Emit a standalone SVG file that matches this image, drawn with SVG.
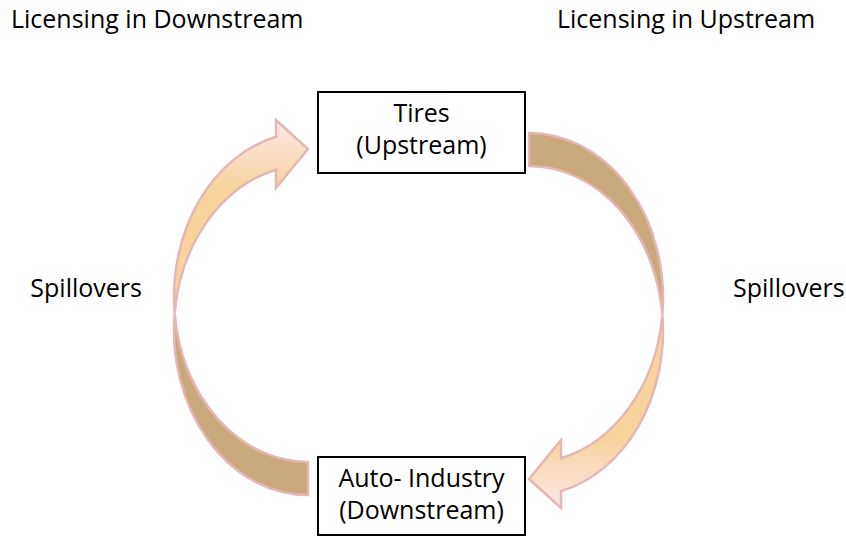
<svg xmlns="http://www.w3.org/2000/svg" width="846" height="536" viewBox="0 0 846 536">
  <style>
    text { font-family: "Open Sans", "Noto Sans", "Liberation Sans", sans-serif; font-size: 25px; fill: #000; }
    .box { fill: #fff; stroke: #000; stroke-width: 2; }
    .front { fill: url(#faceGrad); stroke: #E6B6B5; stroke-width: 2.5; stroke-linejoin: miter; }
    .back { fill: #C9A87C; stroke: #E6B6B5; stroke-width: 2.5; }
    .mid { text-anchor: middle; }
  </style>
  <defs>
    <linearGradient id="faceGrad" x1="0" y1="0" x2="0" y2="1">
      <stop offset="0" stop-color="#FDE6EA"/>
      <stop offset="0.35" stop-color="#F9D49D"/>
      <stop offset="1" stop-color="#F9D39A"/>
    </linearGradient>
    <!-- curved ribbon arrow: back face (tail) + front face (head) -->
    <g id="curvedArrow">
      <path class="back" d="M174.67 313.5 A134 165 0 0 0 308 495 L308 462 A134 165 0 0 1 174.67 313.5 Z"/>
      <path class="front" d="M174.67 313.5 A134 165 0 0 1 276 136.8 L276 120 L308 149 L276 188 L276 169.8 A134 165 0 0 0 174.67 313.5 Z"/>
    </g>
  </defs>

  <g id="connectors">
    <use href="#curvedArrow"/>
    <use href="#curvedArrow" transform="rotate(180 418.5 314)"/>
  </g>

  <g id="tires">
    <rect class="box" x="318" y="92" width="207" height="81"/>
    <text class="mid" x="421.5" y="122">Tires</text>
    <text class="mid" x="421.5" y="154">(Upstream)</text>
  </g>

  <g id="auto-industry">
    <rect class="box" x="318" y="457" width="207" height="78"/>
    <text class="mid" x="421.5" y="487">Auto- Industry</text>
    <text class="mid" x="421.5" y="519">(Downstream)</text>
  </g>

  <g id="labels">
    <text x="11" y="28">Licensing in Downstream</text>
    <text x="557" y="28">Licensing in Upstream</text>
    <text x="142" y="297" text-anchor="end">Spillovers</text>
    <text x="733" y="297">Spillovers</text>
  </g>
</svg>
